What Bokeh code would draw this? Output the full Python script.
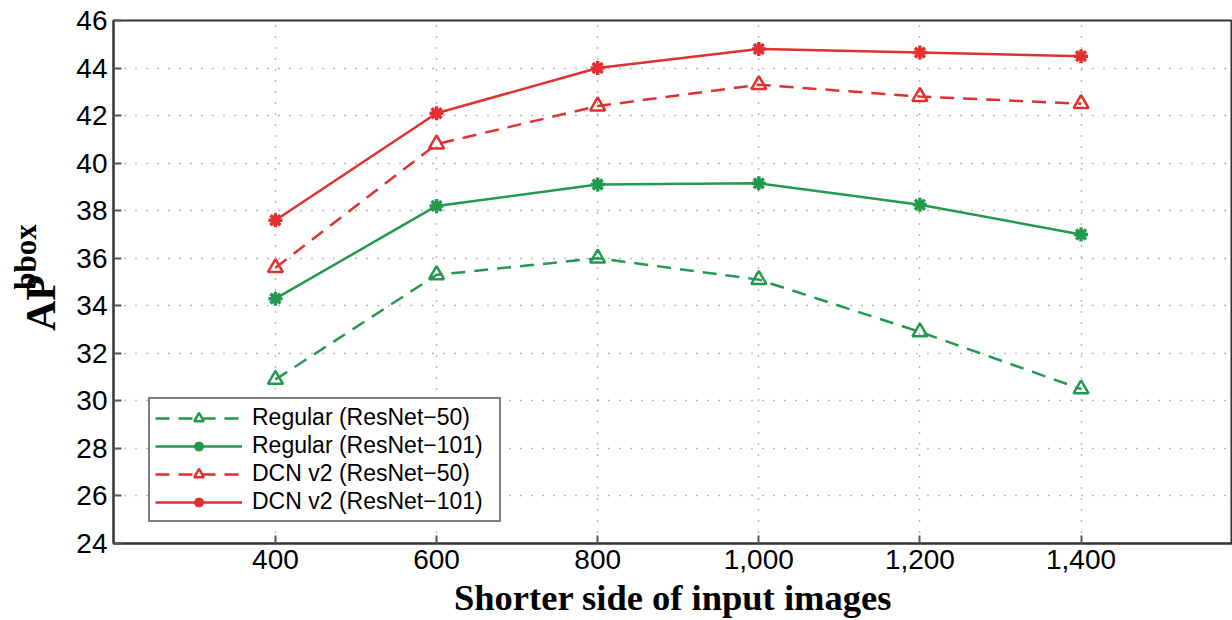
import math
from bokeh.plotting import figure
from bokeh.layouts import row
from bokeh.core.properties import value
from bokeh.models import (Range1d, NumeralTickFormatter, FixedTicker,
                          Legend, LegendItem)
from bokeh.embed import file_html
from bokeh.resources import INLINE

sizes = [400, 600, 800, 1000, 1200, 1400]
regular_r50 = [30.9, 35.3, 36.0, 35.1, 32.9, 30.5]
regular_r101 = [34.3, 38.2, 39.1, 39.15, 38.25, 37.0]
dcn_r50 = [35.6, 40.8, 42.4, 43.3, 42.8, 42.5]
dcn_r101 = [37.6, 42.1, 44.0, 44.8, 44.65, 44.5]
series_names = ["Regular (ResNet\u221250)", "Regular (ResNet\u2212101)",
                "DCN v2 (ResNet\u221250)", "DCN v2 (ResNet\u2212101)"]
y_ticks = list(range(24, 47, 2))
x_ticks = sizes

GREEN = "#23994f"
RED = "#e0302f"
AXC = "#333333"
LEFT_W = 68

# narrow strip holding the y-axis title "AP" with superscript "bbox"
lab = figure(width=LEFT_W, height=620, output_backend="svg", toolbar_location=None,
             x_range=Range1d(0, LEFT_W), y_range=Range1d(0, 620),
             x_axis_type=None, y_axis_type=None, min_border=0)
lab.grid.visible = False
lab.outline_line_color = None
lab.text(x=[40], y=[285], text=["AP"], angle=math.pi / 2,
         text_font=value("Liberation Serif"), text_font_style="bold",
         text_font_size="42px", text_color="black",
         text_baseline="middle", text_align="center")
lab.text(x=[24.5], y=[339.5], text=["bbox"], angle=math.pi / 2,
         text_font=value("Liberation Serif"), text_font_style="bold",
         text_font_size="31px", text_color="black",
         text_baseline="middle", text_align="center")

p = figure(width=1232 - LEFT_W, height=620, output_backend="svg",
           toolbar_location=None,
           x_range=Range1d(199, 1588), y_range=Range1d(24, 46),
           min_border_left=113 - LEFT_W, min_border_right=0, min_border_top=20,
           min_border_bottom=77)
p.outline_line_color = AXC
p.outline_line_width = 2

for ax in (p.xaxis[0], p.yaxis[0]):
    ax.axis_line_color = AXC
    ax.axis_line_width = 2
    ax.major_tick_in = 8
    ax.major_tick_out = 0
    ax.major_tick_line_color = "#555555"
    ax.major_tick_line_width = 2
    ax.minor_tick_in = 0
    ax.minor_tick_out = 0
    ax.major_label_text_font = "Liberation Sans"
    ax.major_label_text_font_size = "28px"
    ax.major_label_text_color = "black"

p.xaxis[0].ticker = FixedTicker(ticks=x_ticks)
p.xaxis[0].formatter = NumeralTickFormatter(format="0,0")
p.xaxis[0].major_label_standoff = 6
p.yaxis[0].ticker = FixedTicker(ticks=y_ticks)
p.yaxis[0].major_label_standoff = 6

p.xaxis[0].axis_label = "Shorter side of input images"
p.xaxis[0].axis_label_text_font = "Liberation Serif"
p.xaxis[0].axis_label_text_font_style = "bold"
p.xaxis[0].axis_label_text_font_size = "36.5px"
p.xaxis[0].axis_label_text_color = "black"
p.xaxis[0].axis_label_standoff = 5

p.xgrid.ticker = FixedTicker(ticks=x_ticks)
p.ygrid.ticker = FixedTicker(ticks=y_ticks)
for g in (p.xgrid[0], p.ygrid[0]):
    g.grid_line_color = "#777777"
    g.grid_line_dash = "1 10"
    g.grid_line_width = 1.5

items = []
styles = [(regular_r50, GREEN, "dashed"), (regular_r101, GREEN, "solid"),
          (dcn_r50, RED, "dashed"), (dcn_r101, RED, "solid")]
for (vals, col, kind), name in zip(styles, series_names):
    dash = "14 9" if kind == "dashed" else "solid"
    ln = p.line(sizes, vals, line_color=col, line_width=2.5, line_dash=dash)
    if kind == "dashed":
        mk = p.scatter(sizes, vals, marker="triangle", size=15, fill_color=None,
                       line_color=col, line_width=2.5)
    else:
        mk = p.scatter(sizes, vals, marker="asterisk", size=14,
                       line_color=col, line_width=3.5)
    items.append(LegendItem(label=name, renderers=[ln, mk]))

legend = Legend(items=items, location=(35, 21), border_line_color="black",
                border_line_width=2, label_text_font="Liberation Sans",
                label_text_font_size="23px", label_text_color="black",
                glyph_width=87, glyph_height=24, label_height=24,
                label_width=242, spacing=1, padding=5, margin=0,
                label_standoff=10,
                background_fill_color="white", background_fill_alpha=1)
p.add_layout(legend, "center")

layout = row(lab, p, spacing=0)
open("out.html", "w").write(file_html(layout, INLINE))
